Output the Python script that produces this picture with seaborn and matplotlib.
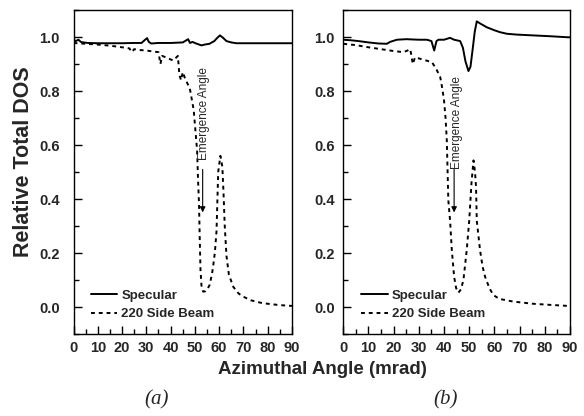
import matplotlib
matplotlib.use('Agg')
import matplotlib.pyplot as plt
import seaborn as sns
from matplotlib.ticker import MultipleLocator

# Panel (a): specular beam
spec_a_x = [0, 1, 2, 3, 4, 6, 10, 15, 20, 25, 28, 29.5, 30.3, 31, 32, 35, 40, 45, 46.5, 47.2,
            48, 49, 50.5, 52.7, 54, 56, 58, 59, 60.3, 61.5, 63, 65, 67, 70, 80, 90]
spec_a_y = [0.99, 0.985, 0.99, 0.982, 0.98, 0.978, 0.977, 0.977, 0.977, 0.978, 0.978, 0.99, 0.996,
            0.982, 0.976, 0.978, 0.978, 0.98, 0.988, 0.992, 0.978, 0.982, 0.976, 0.969, 0.972, 0.975,
            0.985, 0.995, 1.006, 0.998, 0.985, 0.98, 0.977, 0.977, 0.977, 0.977]

# Panel (a): 220 side beam
side_a_x = [0, 5, 10, 15, 20, 23, 24, 25, 27, 30, 33, 35, 35.8, 36.5, 38, 41, 43, 43.6, 44.3, 45,
            46, 47.9, 49.5, 50.9, 51.3, 51.7, 52.0, 52.3, 52.7, 53.4, 54.2, 55, 56, 57, 57.5, 58.2,
            58.9, 59.6, 60.5, 61.3, 61.8, 62.3, 63, 64, 65.8, 68, 70, 73, 77, 80, 85, 90]
side_a_y = [0.978, 0.975, 0.972, 0.968, 0.962, 0.958, 0.944, 0.955, 0.952, 0.95, 0.946, 0.944, 0.90,
            0.93, 0.925, 0.913, 0.93, 0.86, 0.84, 0.87, 0.845, 0.81, 0.73, 0.58, 0.47, 0.38, 0.25,
            0.14, 0.08, 0.057, 0.058, 0.065, 0.08, 0.12, 0.15, 0.2, 0.28, 0.5, 0.56, 0.52, 0.42,
            0.30, 0.19, 0.12, 0.075, 0.05, 0.038, 0.025, 0.016, 0.012, 0.007, 0.004]

# Panel (b): specular beam
spec_b_x = [0, 3, 6, 10, 14, 17.3, 18.6, 21.3, 25, 30, 33.2, 35, 36.1, 37, 37.8, 40, 42.4, 44,
            46.4, 47.5, 48.5, 49.7, 50.5, 51.3, 52.2, 53.0, 54, 55.5, 57, 60, 62.2, 65, 68.9,
            75.4, 82, 89.3, 90]
spec_b_y = [0.99, 0.988, 0.985, 0.98, 0.976, 0.975, 0.982, 0.99, 0.992, 0.99, 0.99, 0.985, 0.95,
            0.985, 0.99, 0.99, 0.997, 0.99, 0.985, 0.96, 0.91, 0.874, 0.89, 0.95, 1.02, 1.058,
            1.052, 1.044, 1.036, 1.025, 1.018, 1.012, 1.009, 1.006, 1.003, 0.999, 0.999]

# Panel (b): 220 side beam
side_b_x = [0, 5, 10, 15, 20, 23.9, 25.5, 26.6, 27.6, 28.5, 31, 35.2, 37, 38.5, 39.3, 40.0, 40.6,
            41.1, 41.7, 42.4, 43.1, 44.0, 44.8, 45.7, 46.7, 47.7, 49.0, 50.0, 50.9, 51.7, 52.3,
            52.7, 53.0, 54.3, 55.3, 56.3, 58, 59.6, 62, 67.5, 75.4, 82, 89.3, 90]
side_b_y = [0.975, 0.97, 0.962, 0.955, 0.948, 0.944, 0.95, 0.955, 0.90, 0.925, 0.918, 0.907, 0.88,
            0.851, 0.81, 0.765, 0.70, 0.617, 0.396, 0.32, 0.21, 0.112, 0.07, 0.053, 0.065, 0.10,
            0.21, 0.32, 0.46, 0.543, 0.50, 0.445, 0.32, 0.21, 0.15, 0.112, 0.07, 0.044, 0.03,
            0.02, 0.012, 0.008, 0.004, 0.004]

x_ticks = [0, 10, 20, 30, 40, 50, 60, 70, 80, 90]
y_ticks = [0.0, 0.2, 0.4, 0.6, 0.8, 1.0]
emergence_a = 53.2
emergence_b = 44.0

sns.set_style('ticks')
plt.rcParams['font.family'] = ['Liberation Sans', 'DejaVu Sans']

fig = plt.figure(figsize=(5.84, 4.16), dpi=100)
ax_a = fig.add_axes([0.1259, 0.1971, 0.3741, 0.7788])
ax_b = fig.add_axes([0.5878, 0.1971, 0.3882, 0.7788])


def draw_panel(ax, sx, sy, bx, by, emerg, text_x, text_y, ypad):
    sns.lineplot(x=sx, y=sy, ax=ax, color='black', linewidth=1.4, label='Specular',
                 sort=False, estimator=None)
    sns.lineplot(x=bx, y=by, ax=ax, color='black', linewidth=1.4, linestyle=(0, (2, 2)),
                 label='220 Side Beam', sort=False, estimator=None)
    ax.set_xlim(0, 90)
    ax.set_ylim(-0.1, 1.1)
    ax.set_xticks(x_ticks)
    ax.set_xticklabels([str(t) for t in x_ticks], fontweight='bold', fontsize=10.5)
    ax.set_yticks(y_ticks)
    ax.set_yticklabels([f'{t:.1f}' for t in y_ticks], fontweight='bold', fontsize=10.5)
    ax.xaxis.set_minor_locator(MultipleLocator(5))
    ax.yaxis.set_minor_locator(MultipleLocator(0.1))
    ax.tick_params(which='both', direction='in', top=False, right=False, width=1, color='black')
    ax.tick_params(which='major', length=6)
    ax.tick_params(which='minor', length=3.5)
    ax.tick_params(axis='x', pad=5)
    ax.tick_params(axis='y', pad=ypad)
    for sp in ax.spines.values():
        sp.set_linewidth(1.0)
        sp.set_color('black')
    ax.set_xlabel('')
    ax.set_ylabel('')
    ax.annotate('', xy=(emerg, 0.34), xytext=(emerg, 0.52),
                arrowprops=dict(arrowstyle='-|>', color='black', lw=0.8, mutation_scale=8))
    ax.text(text_x, text_y, 'Emergence Angle', rotation=90, ha='center', va='center',
            fontsize=8.5)
    ax.legend(loc='lower left', bbox_to_anchor=(0.05, 0.022), frameon=False,
              handlelength=2.0, handletextpad=0.3, labelspacing=0.45, borderpad=0,
              prop={'weight': 'bold', 'size': 9.5})


draw_panel(ax_a, spec_a_x, spec_a_y, side_a_x, side_a_y, emergence_a, 53.6, 0.715, 10)
draw_panel(ax_b, spec_b_x, spec_b_y, side_b_x, side_b_y, emergence_b, 45.1, 0.685, 6)

fig.text(322 / 584, 1 - 369 / 416, 'Azimuthal Angle (mrad)', ha='center', va='center',
         fontsize=13.5, fontweight='bold')
fig.text(24 / 584, 1 - 162 / 416, 'Relative Total DOS', ha='center', va='center',
         rotation=90, fontsize=15.5, fontweight='bold')
fig.text(157 / 584, 1 - 400 / 416, '(a)', ha='center', va='center', fontsize=15,
         family='Liberation Serif', style='italic')
fig.text(446 / 584, 1 - 400 / 416, '(b)', ha='center', va='center', fontsize=15,
         family='Liberation Serif', style='italic')

fig.savefig('out.png', dpi=100, facecolor='white')
